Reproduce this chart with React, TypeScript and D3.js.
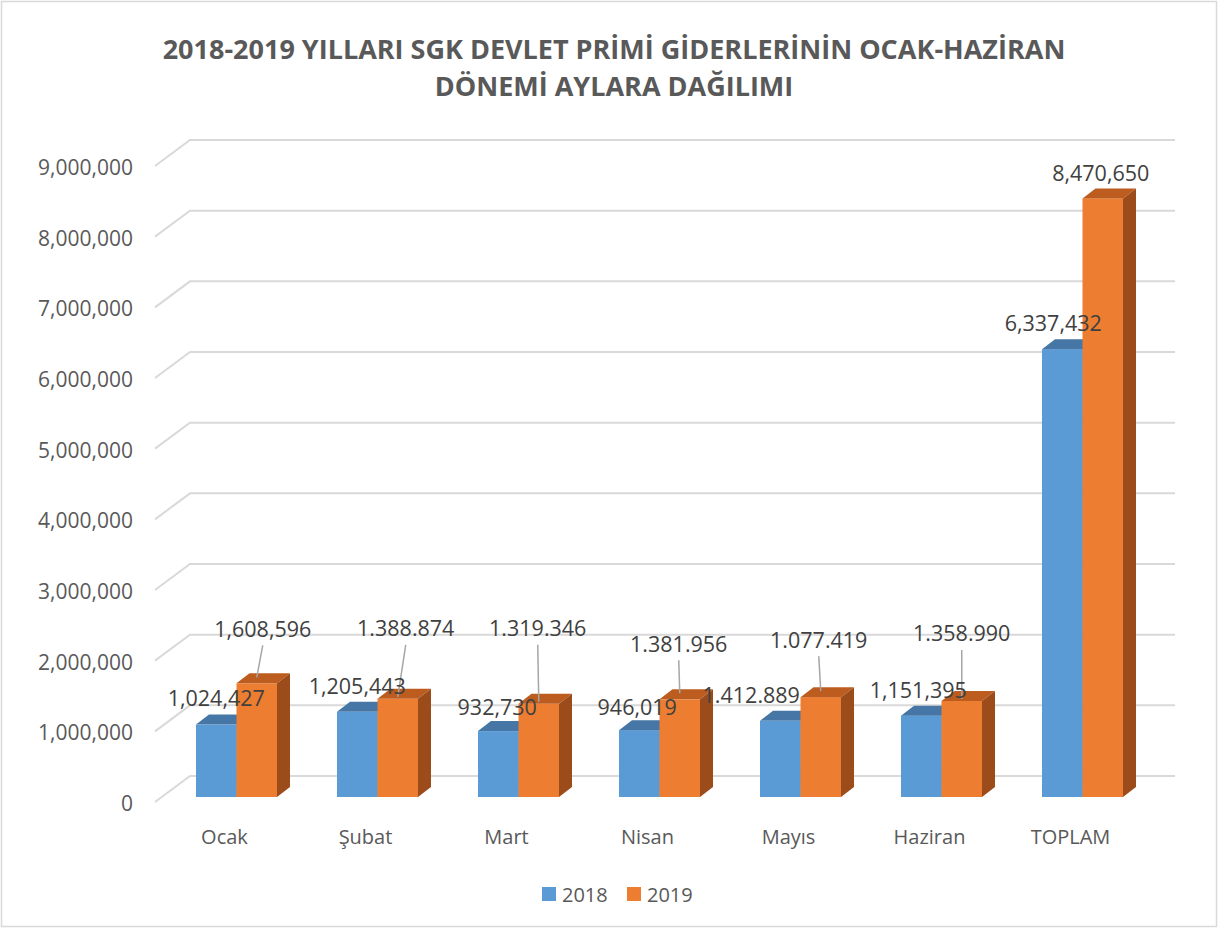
import * as d3 from "d3";

const categories = ["Ocak", "Şubat", "Mart", "Nisan", "Mayıs", "Haziran", "TOPLAM"];
const values2018 = [1024427, 1205443, 932730, 946019, 1077419, 1151395, 6337432];
const values2019 = [1608596, 1388874, 1319346, 1381956, 1412889, 1358990, 8470650];
// label texts as shown in the source (Mayıs labels are swapped there, dots vs commas too)
const labels2018 = ["1,024,427", "1,205,443", "932,730", "946,019", "1.412.889", "1,151,395", "6,337,432"];
const labels2019 = ["1,608,596", "1.388.874", "1.319.346", "1.381.956", "1.077.419", "1.358.990", "8,470,650"];
const yTicks = [0, 1000000, 2000000, 3000000, 4000000, 5000000, 6000000, 7000000, 8000000, 9000000];
const series = ["2018", "2019"];

// manual label placement (dragged labels in the original), relative to bar top
const off2018: [number, number][] = [[0, -27], [0, -26], [-1, -25], [-2, -24], [-29, -26], [-3, -26], [-9, -27]];
const off2019: [number, number][] = [[6, -55], [8, -71], [-1, -76], [-1, -56], [-2, -58], [0, -68], [-2, -26]];

const W = 1219, H = 930;
const FONT = "'Open Sans', 'Noto Sans', sans-serif";
const BLUE = "#5B9BD5", BLUE_TOP = "#4676A5", BLUE_SIDE = "#3F6D99";
const ORANGE = "#ED7D31", ORANGE_TOP = "#BC5C1E", ORANGE_SIDE = "#9C4C1B";
const GRID = "#D9D9D9";

export default function App() {
  const y = d3.scaleLinear().domain([0, 9000000]).range([797, 161]);
  const x = d3.scaleBand<string>().domain(categories).range([166, 1153]).padding(0);
  const bw = 40.5;
  const ddx = 13, ddy = -10; // bar depth
  const wx = 35, wy = -26; // wall depth
  const fmt = d3.format(",");

  const bar = (x0: number, v: number, front: string, top: string, side: string, key: string) => {
    const yt = y(v), yb = y(0), x1 = x0 + bw;
    return (
      <g key={key}>
        <rect x={x0} y={yt} width={bw} height={yb - yt} fill={front} />
        <path d={`M${x0},${yt}L${x0 + ddx},${yt + ddy}L${x1 + ddx},${yt + ddy}L${x1},${yt}Z`} fill={top} />
        <path d={`M${x1},${yt}L${x1 + ddx},${yt + ddy}L${x1 + ddx},${yb + ddy}L${x1},${yb}Z`} fill={side} />
      </g>
    );
  };

  return (
    <svg width={W} height={H} style={{ position: "absolute", left: 0, top: 0, background: "#fff" }} fontFamily={FONT}>
      <rect x={1.5} y={1.5} width={W - 4} height={H - 5} fill="#fff" stroke={GRID} strokeWidth={1.5} />
      <g fill="#595959" fontWeight={700} fontSize={27} textAnchor="middle">
        <text x={614} y={48} dominantBaseline="central">2018-2019 YILLARI SGK DEVLET PRİMİ GİDERLERİNİN OCAK-HAZİRAN</text>
        <text x={614} y={85} dominantBaseline="central">DÖNEMİ AYLARA DAĞILIMI</text>
      </g>

      {/* gridlines: front diagonal + back wall */}
      <g stroke={GRID} strokeWidth={2} fill="none">
        {yTicks.map((t) => (
          <path key={t} d={`M155,${y(t) + 5}L${155 + wx},${y(t) + 5 + wy}L1175,${y(t) + 5 + wy}`} />
        ))}
      </g>
      <g fill="#595959" fontSize={21} textAnchor="end">
        {yTicks.map((t) => (
          <text key={t} x={133} y={y(t) + 6} dominantBaseline="central">{fmt(t)}</text>
        ))}
      </g>

      {categories.map((c, i) => {
        const cx = x(c)! + x.bandwidth() / 2;
        return (
          <g key={c}>
            {bar(cx - bw, values2018[i], BLUE, BLUE_TOP, BLUE_SIDE, "a")}
            {bar(cx, values2019[i], ORANGE, ORANGE_TOP, ORANGE_SIDE, "b")}
          </g>
        );
      })}

      {/* leader lines */}
      <g stroke="#A6A6A6" strokeWidth={1.5}>
        {categories.map((c, i) => {
          const cx = x(c)! + x.bandwidth() / 2 + bw / 2;
          const yt = y(values2019[i]);
          const [dx, dy] = off2019[i];
          if (dy > -40) return null;
          return <line key={c} x1={cx + dx} y1={yt + dy + 17} x2={cx} y2={yt + (dy < -60 ? -2 : -6)} />;
        })}
      </g>

      <g fill="#404040" fontSize={21.5} textAnchor="middle">
        {categories.map((c, i) => {
          const cx = x(c)! + x.bandwidth() / 2;
          const [dx1, dy1] = off2018[i];
          const [dx2, dy2] = off2019[i];
          return (
            <g key={c}>
              <text x={cx - bw / 2 + dx1} y={y(values2018[i]) + dy1} dominantBaseline="central">{labels2018[i]}</text>
              <text x={cx + bw / 2 + dx2} y={y(values2019[i]) + dy2} dominantBaseline="central">{labels2019[i]}</text>
            </g>
          );
        })}
      </g>

      <g fill="#595959" fontSize={20} textAnchor="middle">
        {categories.map((c) => (
          <text key={c} x={x(c)! + x.bandwidth() / 2 - 12} y={836} dominantBaseline="central">{c}</text>
        ))}
      </g>

      <g fontSize={20} fill="#595959">
        {series.map((s, i) => (
          <g key={s} transform={`translate(${542 + i * 85},887)`}>
            <rect width={14} height={14} fill={i === 0 ? BLUE : ORANGE} />
            <text x={20} y={7} dominantBaseline="central">{s}</text>
          </g>
        ))}
      </g>
    </svg>
  );
}
